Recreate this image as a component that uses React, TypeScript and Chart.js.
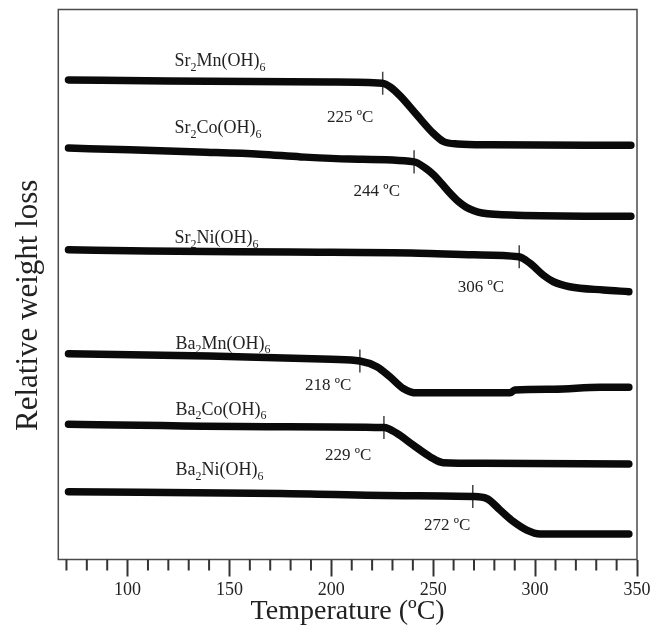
import React, { useEffect, useRef } from 'react';
import { Chart, registerables } from 'chart.js';

Chart.register(...registerables);

// ---- data (temperature in °C, relative weight in arbitrary stacked units) ----
const sr2MnT = [71, 120, 200, 225, 229, 234, 242, 250, 255, 262, 278, 347];
const sr2MnW = [87.2, 87.0, 86.8, 86.6, 85.9, 84.2, 80.8, 77.5, 76.0, 75.55, 75.4, 75.3];

const sr2CoT = [71, 101, 135, 165, 185, 209, 240.6, 246, 250, 254, 258, 262, 266, 270, 274, 291, 347];
const sr2CoW = [74.8, 74.5, 74.1, 73.7, 73.2, 72.8, 72.3, 71.2, 70.0, 68.4, 66.7, 65.2, 64.1, 63.4, 63.0, 62.6, 62.4];

const sr2NiT = [71, 110, 180, 243, 270, 292, 297.5, 304, 309, 317, 333.5, 346];
const sr2NiW = [56.3, 56.1, 55.9, 55.7, 55.4, 55.05, 53.85, 51.7, 50.5, 49.6, 49.0, 48.7];

const ba2MnT = [71, 140, 200, 214, 222.3, 228.8, 235.3, 241.9, 287.7, 290, 309, 332, 346];
const ba2MnW = [37.4, 37.0, 36.4, 36.1, 35.05, 33.2, 31.1, 30.3, 30.3, 30.8, 30.95, 31.3, 31.3];

const ba2CoT = [71, 175, 225.8, 232.1, 240.2, 248.4, 254.9, 274.6, 346];
const ba2CoW = [24.6, 24.15, 24.0, 22.95, 20.8, 18.7, 17.6, 17.5, 17.35];

const ba2NiT = [71, 175, 236, 269.4, 276.2, 282.8, 289.3, 295.9, 302.4, 346];
const ba2NiW = [12.3, 12.0, 11.6, 11.45, 11.1, 9.0, 6.9, 5.35, 4.65, 4.65];

const formulaNames = ['Sr2Mn(OH)6', 'Sr2Co(OH)6', 'Sr2Ni(OH)6', 'Ba2Mn(OH)6', 'Ba2Co(OH)6', 'Ba2Ni(OH)6'];
const formulaLabelT = [123.0, 123.0, 123.0, 123.5, 123.5, 123.5];
const formulaLabelW = [90.8, 78.6, 58.6, 39.4, 27.4, 16.4];

const onsetValues = [225, 244, 306, 218, 229, 272];
const onsetMarkT = [225.2, 240.6, 292.2, 214, 225.8, 269.4];
const onsetMarkW = [86.6, 72.3, 55.05, 36.1, 24.0, 11.45];
const onsetLabelT = [209.2, 222.3, 273.4, 198.4, 208.2, 256.8];
const onsetLabelW = [80.5, 67.2, 49.6, 31.9, 19.2, 6.45];

const xTickValues = [70, 80, 90, 100, 110, 120, 130, 140, 150, 160, 170, 180, 190, 200, 210, 220, 230, 240, 250, 260, 270, 280, 290, 300, 310, 320, 330, 340, 350];
const xMajorTicks = [100, 150, 200, 250, 300, 350];

const xTitle = 'Temperature (ºC)';
const yTitle = 'Relative weight loss';

const SERIF = "'Liberation Serif', 'Times New Roman', serif";
const TEXT = '#222';

function pairs(t: number[], w: number[]) {
  return t.map((x, i) => ({ x, y: w[i] }));
}

const curves = [
  pairs(sr2MnT, sr2MnW),
  pairs(sr2CoT, sr2CoW),
  pairs(sr2NiT, sr2NiW),
  pairs(ba2MnT, ba2MnW),
  pairs(ba2CoT, ba2CoW),
  pairs(ba2NiT, ba2NiW),
];

const annotationPlugin = {
  id: 'tgaAnnotations',
  afterDraw(chart: any) {
    const { ctx, chartArea, scales } = chart;
    const xs = scales.x;
    const ys = scales.y;
    ctx.save();
    // frame
    ctx.strokeStyle = '#4a4a4a';
    ctx.lineWidth = 1.5;
    ctx.strokeRect(chartArea.left, chartArea.top, chartArea.right - chartArea.left, chartArea.bottom - chartArea.top);

    // minor ticks
    ctx.strokeStyle = '#333';
    ctx.lineWidth = 2;
    xTickValues.forEach((v) => {
      if (xMajorTicks.includes(v)) return;
      const px = xs.getPixelForValue(v);
      ctx.beginPath();
      ctx.moveTo(px, chartArea.bottom);
      ctx.lineTo(px, chartArea.bottom + 11);
      ctx.stroke();
    });

    ctx.fillStyle = TEXT;
    // formula labels with subscripts
    const fsize = 18;
    formulaNames.forEach((name, i) => {
      let cx = xs.getPixelForValue(formulaLabelT[i]);
      const cy = ys.getPixelForValue(formulaLabelW[i]) + fsize * 0.33;
      ctx.textAlign = 'left';
      ctx.textBaseline = 'alphabetic';
      name.split(/(\d+)/).forEach((part, k) => {
        if (!part) return;
        const sub = k % 2 === 1;
        ctx.font = `${sub ? Math.round(fsize * 0.68) : fsize}px ${SERIF}`;
        ctx.fillText(part, cx, sub ? cy + fsize * 0.26 : cy);
        cx += ctx.measureText(part).width;
      });
    });

    // onset labels
    const size = 17;
    ctx.font = `${size}px ${SERIF}`;
    ctx.textAlign = 'center';
    onsetValues.forEach((v, i) => {
      const px = xs.getPixelForValue(onsetLabelT[i]);
      const py = ys.getPixelForValue(onsetLabelW[i]) + size * 0.33;
      ctx.fillText(`${v} ºC`, px, py);
    });

    // y title
    ctx.font = `31px ${SERIF}`;
    ctx.textAlign = 'left';
    ctx.textBaseline = 'alphabetic';
    ctx.translate(37, 431);
    ctx.rotate(-Math.PI / 2);
    ctx.fillText(yTitle, 0, 0);
    ctx.restore();
  },
};

export default function App() {
  const ref = useRef<HTMLCanvasElement | null>(null);

  useEffect(() => {
    if (!ref.current) return;
    const datasets: any[] = curves.map((data) => ({
      data,
      borderColor: '#0a0a0a',
      borderWidth: 7.5,
      borderCapStyle: 'round',
      borderJoinStyle: 'round',
      pointRadius: 0,
      cubicInterpolationMode: 'monotone',
      fill: false,
    }));
    onsetMarkT.forEach((t, i) => {
      datasets.push({
        data: [
          { x: t, y: onsetMarkW[i] + 2.1 },
          { x: t, y: onsetMarkW[i] - 2.1 },
        ],
        borderColor: '#444',
        borderWidth: 1.5,
        pointRadius: 0,
        fill: false,
      });
    });

    const chart = new Chart(ref.current, {
      type: 'line',
      data: { datasets },
      plugins: [annotationPlugin],
      options: {
        animation: false,
        responsive: true,
        maintainAspectRatio: false,
        devicePixelRatio: 1,
        layout: { padding: { top: 9.5, left: 58.3, right: 17, bottom: 0 } },
        plugins: { legend: { display: false }, tooltip: { enabled: false } },
        scales: {
          x: {
            type: 'linear',
            min: 66,
            max: 350,
            afterBuildTicks: (scale: any) => {
              scale.ticks = xTickValues.map((value) => ({ value }));
            },
            afterFit: (scale: any) => {
              scale.height = 68.5;
            },
            border: { display: false },
            grid: {
              drawOnChartArea: false,
              drawTicks: true,
              tickLength: 17,
              tickWidth: 2,
              tickColor: (c: any) => (c.tick && xMajorTicks.includes(c.tick.value) ? '#333' : 'rgba(0,0,0,0)'),
            },
            ticks: {
              autoSkip: false,
              maxRotation: 0,
              padding: 3,
              color: TEXT,
              font: { family: SERIF, size: 18 },
              callback: (v: any) => (xMajorTicks.includes(Number(v)) ? String(v) : ''),
            },
            title: {
              display: true,
              text: xTitle,
              color: TEXT,
              font: { family: SERIF, size: 28 },
              padding: { top: 0, bottom: 0 },
            },
          },
          y: {
            type: 'linear',
            min: 0,
            max: 100,
            display: false,
          },
        },
      },
    });
    return () => chart.destroy();
  }, []);

  return (
    <div style={{ position: 'fixed', left: 0, top: 0, width: 654, height: 628, background: '#fff' }}>
      <canvas ref={ref} />
    </div>
  );
}
